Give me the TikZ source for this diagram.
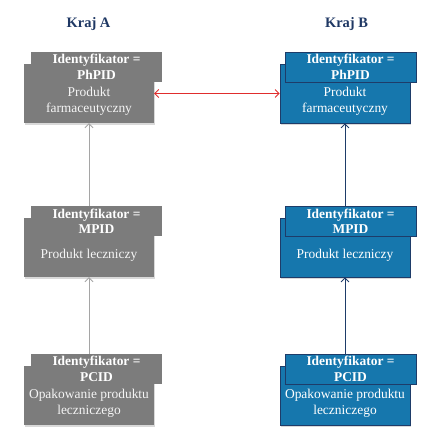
\documentclass[tikz,border=0pt]{standalone}
\usepackage{fontspec}
\setmainfont{Liberation Serif}
\usetikzlibrary{shadows,arrows.meta}

\definecolor{boxgray}{RGB}{124,124,124}
\definecolor{boxblue}{RGB}{22,119,173}
\definecolor{edgeblue}{RGB}{30,60,105}
\definecolor{titleblue}{RGB}{31,56,100}
\definecolor{linkred}{RGB}{224,45,45}
\definecolor{linkgray}{RGB}{165,165,165}

\tikzset{
  box/.style={rectangle, inner sep=0pt, minimum width=130bp, minimum height=59bp,
    drop shadow={shadow xshift=1.2bp, shadow yshift=-1.8bp, opacity=0.3}},
  tab/.style={rectangle, inner sep=0pt, minimum width=131bp, minimum height=30bp,
    align=center, text=white, font=\fontsize{13.5}{15.5}\selectfont\bfseries},
  body/.style={align=center, inner sep=0pt, font=\fontsize{13.5}{15.5}\selectfont},
  graybox/.style={box, fill=boxgray},
  graytab/.style={tab, fill=boxgray},
  bluebox/.style={box, fill=boxblue, draw=edgeblue, line width=0.8bp},
  bluetab/.style={tab, fill=boxblue, draw=edgeblue, line width=0.8bp},
  title/.style={font=\fontsize{14.5}{16}\selectfont\bfseries, text=titleblue},
  up/.style={-{Straight Barb[length=4bp,width=8bp]}, line width=0.8bp}
}

\begin{document}
\begin{tikzpicture}[x=1bp, y=-1bp]
    \useasboundingbox (0,0) rectangle (436,433);

    \node[title] (krajA) at (88.5, 24) {Kraj A};
    \node[title] (krajB) at (346.5, 24) {Kraj B};

    % left column (gray), right column (blue)
    \foreach \nm/\T/\id/\txt in {ph/64/PhPID/{Produkt\\farmaceutyczny},
                                 mp/218/MPID/{Produkt leczniczy},
                                 pc/366/PCID/{Opakowanie produktu\\leczniczego}} {
      \node[graybox] (\nm A) at (89, \T+29.5) {};
      \node[graytab] (\nm A-tab) at (96.5, \T+3) {Identyfikator =\\\id};
      \node[body, text=white!92!gray] (\nm A-txt) at (89, \T+37.5) {\txt};
      \node[bluebox] (\nm B) at (345, \T+29.5) {};
      \node[bluetab] (\nm B-tab) at (350.5, \T+3) {Identyfikator =\\\id};
      \node[body, text=white] (\nm B-txt) at (345, \T+37.5) {\txt};
    }

    \draw[up, linkgray] (pcA.center |- pcA-tab.north) -- (mpA.south);
    \draw[up, linkgray] (mpA.center |- mpA-tab.north) -- (phA.south);
    \draw[up, edgeblue] (pcB.center |- pcB-tab.north) -- (mpB.south);
    \draw[up, edgeblue] (mpB.center |- mpB-tab.north) -- (phB.south);

    \draw[{Straight Barb[length=4bp,width=8bp]}-{Straight Barb[length=4bp,width=8bp]},
          linkred, line width=0.8bp] (phA.east) -- (phB.west);
\end{tikzpicture}
\end{document}
